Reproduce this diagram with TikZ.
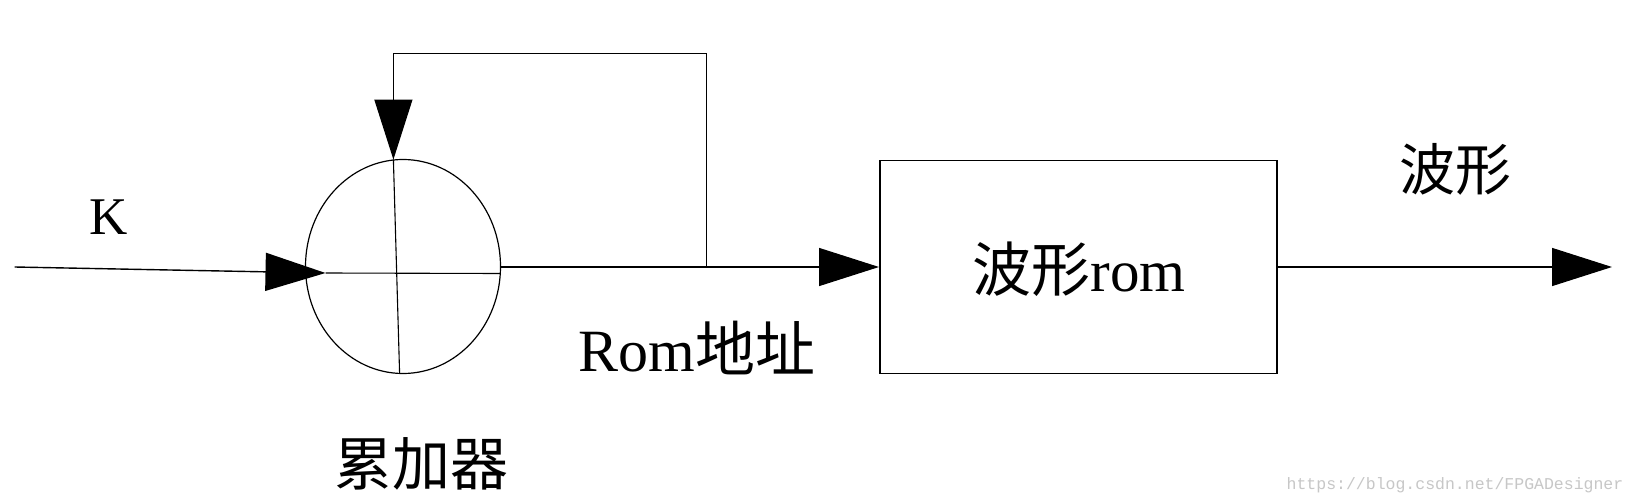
\documentclass[tikz,border=0pt]{standalone}
\usepackage{fontspec}
\setmainfont{Liberation Serif}
\newfontfamily\cjk{Noto Sans CJK SC}
\newfontfamily\wmfont{Liberation Mono}
\usetikzlibrary{arrows.meta,shapes.geometric}
\begin{document}
\begin{tikzpicture}[x=1pt,y=-1pt,
  line/.style={line width=1.4pt},
  tip/.style={-{Triangle[length=60pt,width=38pt]}},
  lbl/.style={inner sep=0pt,font=\fontsize{56}{62}\selectfont}]
\useasboundingbox (0,0) rectangle (1636,503);
\fill[white] (0,0) rectangle (1636,503);
% accumulator
\node[ellipse,draw,line width=1.2pt,minimum width=195pt,minimum height=214pt,inner sep=0pt] (acc) at (403,266.5) {};
\coordinate (kin) at (14.6,267);
\coordinate (ktip) at (325.5,273);
\coordinate (accr) at (500.8,273.5);
\coordinate (vtop) at (393.4,159.6);
\coordinate (vbot) at (399.6,373.5);
\draw[line width=1.1pt] (ktip) -- (accr);
\draw[line width=1.1pt] (vtop) -- (vbot);
\draw[line,tip] (kin) -- (ktip);
% ROM box
\node[draw,line width=1.6pt,minimum width=397pt,minimum height=213pt,inner sep=0pt] (rom) at (1078.3,267.1) {};
\node[lbl,font=\fontsize{59}{64}\selectfont] (romlbl) at (1079,269) {{\cjk 波形}rom};
% connectors
\coordinate (outs) at (500.8,267);
\coordinate (fb) at (706.4,267);
\coordinate (fbtop) at (706.4,53.2);
\coordinate (fbl) at (393.4,53.2);
\draw[line] (outs) -- (fb);
\draw[line,tip] (fb) -- (rom.west |- fb);
\draw[line width=1.2pt,tip] (fb) -- (fbtop) -- (fbl) -- (vtop);
\coordinate (wout) at (1612,267);
\draw[line,tip] (rom.east |- wout) -- (wout);
% labels
\node[lbl,font=\fontsize{53}{60}\selectfont] (k) at (108.5,217) {K};
\node[lbl] (wave) at (1455.5,169) {\cjk 波形};
\node[lbl,font=\fontsize{60}{66}\selectfont] (addr) at (697,348.5) {Rom{\cjk 地址}};
\node[lbl,font=\fontsize{58}{64}\selectfont] (accl) at (421.5,464) {\cjk 累加器};
\node[inner sep=0pt,text=black!22,font=\wmfont\fontsize{16.5}{18}\selectfont] (wm) at (1455,485) {https://blog.csdn.net/FPGADesigner};
\end{tikzpicture}
\end{document}
